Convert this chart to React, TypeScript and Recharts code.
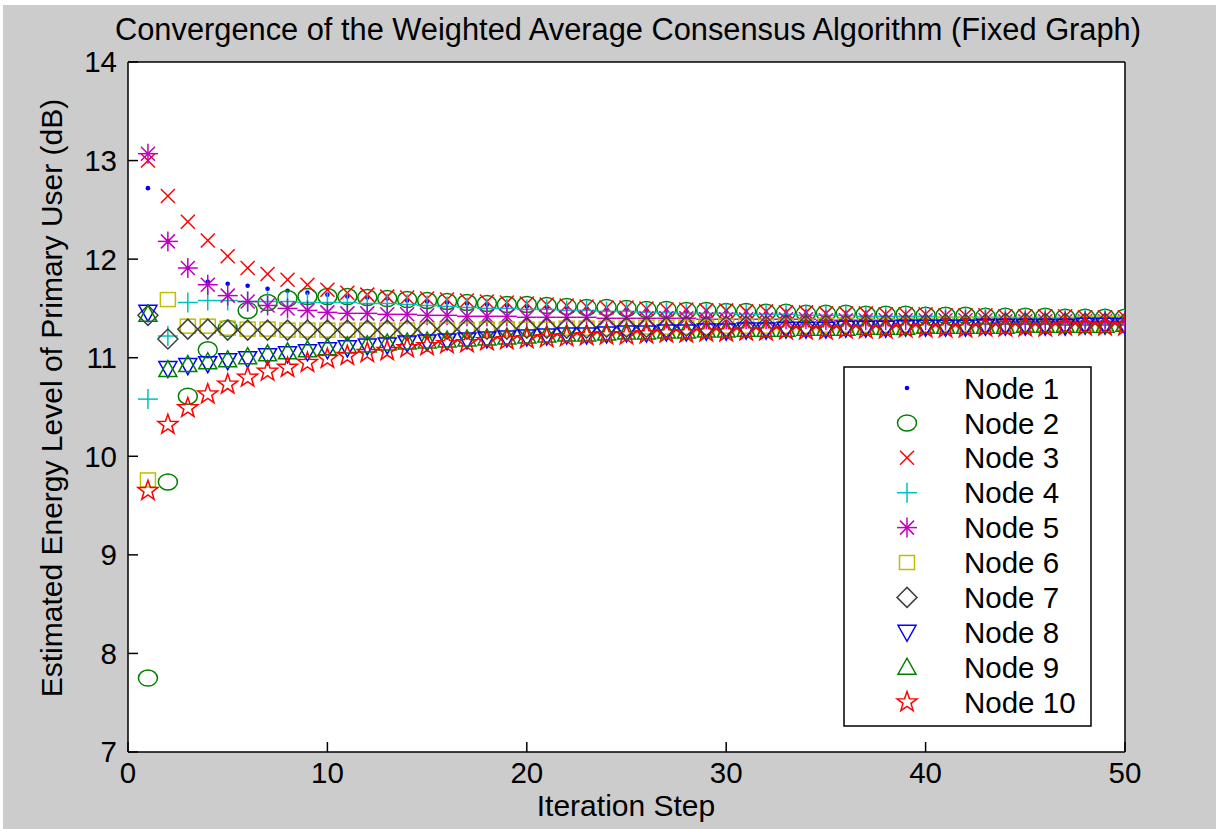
import React from 'react';
import { ScatterChart, Scatter, XAxis, YAxis, CartesianGrid, Legend } from 'recharts';

const iterations = [
  1, 2, 3, 4, 5, 6, 7, 8, 9, 10, 11, 12, 13, 14, 15, 16, 17, 18, 19, 20,
  21, 22, 23, 24, 25, 26, 27, 28, 29, 30, 31, 32, 33, 34, 35, 36, 37, 38, 39, 40,
  41, 42, 43, 44, 45, 46, 47, 48, 49, 50,
];

const node1 = [
  12.72, 12.18, 11.91, 11.77, 11.75, 11.73, 11.70, 11.68, 11.66, 11.64,
  11.62, 11.61, 11.60, 11.58, 11.57, 11.56, 11.55, 11.54, 11.53, 11.52,
  11.51, 11.51, 11.50, 11.49, 11.49, 11.48, 11.47, 11.47, 11.46, 11.46,
  11.45, 11.45, 11.44, 11.44, 11.43, 11.43, 11.43, 11.42, 11.42, 11.42,
  11.41, 11.41, 11.41, 11.40, 11.40, 11.40, 11.40, 11.39, 11.39, 11.39,
];
const node2 = [
  7.75, 9.74, 10.61, 11.08, 11.30, 11.48, 11.56, 11.60, 11.62, 11.62,
  11.62, 11.61, 11.60, 11.59, 11.58, 11.57, 11.56, 11.55, 11.54, 11.54,
  11.53, 11.52, 11.51, 11.51, 11.50, 11.49, 11.49, 11.48, 11.48, 11.47,
  11.47, 11.46, 11.46, 11.45, 11.45, 11.45, 11.44, 11.44, 11.44, 11.43,
  11.43, 11.43, 11.42, 11.42, 11.42, 11.42, 11.41, 11.41, 11.41, 11.41,
];
const node3 = [
  13.00, 12.64, 12.38, 12.19, 12.03, 11.91, 11.85, 11.79, 11.74, 11.69,
  11.66, 11.64, 11.62, 11.61, 11.60, 11.59, 11.58, 11.57, 11.56, 11.55,
  11.54, 11.53, 11.52, 11.51, 11.51, 11.50, 11.49, 11.49, 11.48, 11.48,
  11.47, 11.47, 11.46, 11.46, 11.45, 11.45, 11.45, 11.44, 11.44, 11.44,
  11.43, 11.43, 11.43, 11.42, 11.42, 11.42, 11.42, 11.41, 11.41, 11.41,
];
const node4 = [
  10.58, 11.22, 11.56, 11.58, 11.58, 11.57, 11.57, 11.57, 11.56, 11.56,
  11.56, 11.55, 11.55, 11.54, 11.53, 11.52, 11.51, 11.50, 11.50, 11.49,
  11.49, 11.48, 11.48, 11.47, 11.47, 11.46, 11.46, 11.45, 11.45, 11.45,
  11.44, 11.44, 11.44, 11.43, 11.43, 11.43, 11.42, 11.42, 11.42, 11.42,
  11.41, 11.41, 11.41, 11.41, 11.40, 11.40, 11.40, 11.40, 11.40, 11.39,
];
const node5 = [
  13.07, 12.18, 11.91, 11.74, 11.63, 11.57, 11.53, 11.50, 11.48, 11.46,
  11.45, 11.45, 11.44, 11.44, 11.43, 11.43, 11.42, 11.42, 11.42, 11.41,
  11.41, 11.41, 11.41, 11.40, 11.40, 11.40, 11.40, 11.40, 11.39, 11.39,
  11.39, 11.39, 11.39, 11.39, 11.38, 11.38, 11.38, 11.38, 11.38, 11.38,
  11.38, 11.38, 11.38, 11.37, 11.37, 11.37, 11.37, 11.37, 11.37, 11.37,
];
const node6 = [
  9.76, 11.59, 11.32, 11.32, 11.30, 11.29, 11.29, 11.28, 11.28, 11.28,
  11.28, 11.28, 11.28, 11.28, 11.28, 11.28, 11.28, 11.29, 11.29, 11.29,
  11.29, 11.30, 11.30, 11.30, 11.30, 11.31, 11.31, 11.31, 11.31, 11.32,
  11.32, 11.32, 11.32, 11.32, 11.33, 11.33, 11.33, 11.33, 11.33, 11.33,
  11.34, 11.34, 11.34, 11.34, 11.34, 11.34, 11.34, 11.35, 11.35, 11.35,
];
const node7 = [
  11.43, 11.19, 11.29, 11.29, 11.28, 11.28, 11.28, 11.28, 11.28, 11.28,
  11.28, 11.28, 11.28, 11.28, 11.29, 11.29, 11.29, 11.29, 11.29, 11.30,
  11.30, 11.30, 11.30, 11.31, 11.31, 11.31, 11.31, 11.32, 11.32, 11.32,
  11.32, 11.32, 11.33, 11.33, 11.33, 11.33, 11.33, 11.34, 11.34, 11.34,
  11.34, 11.34, 11.34, 11.35, 11.35, 11.35, 11.35, 11.35, 11.35, 11.35,
];
const node8 = [
  11.46, 10.89, 10.92, 10.94, 10.97, 10.99, 11.02, 11.04, 11.06, 11.08,
  11.10, 11.12, 11.13, 11.15, 11.16, 11.17, 11.18, 11.19, 11.20, 11.21,
  11.22, 11.23, 11.23, 11.24, 11.25, 11.25, 11.26, 11.26, 11.27, 11.27,
  11.28, 11.28, 11.29, 11.29, 11.29, 11.30, 11.30, 11.30, 11.31, 11.31,
  11.31, 11.31, 11.32, 11.32, 11.32, 11.32, 11.32, 11.33, 11.33, 11.33,
];
const node9 = [
  11.44, 10.88, 10.93, 10.96, 10.98, 11.01, 11.04, 11.06, 11.08, 11.10,
  11.12, 11.13, 11.15, 11.16, 11.17, 11.18, 11.19, 11.20, 11.21, 11.22,
  11.23, 11.24, 11.24, 11.25, 11.26, 11.26, 11.27, 11.27, 11.28, 11.28,
  11.29, 11.29, 11.29, 11.30, 11.30, 11.30, 11.31, 11.31, 11.31, 11.32,
  11.32, 11.32, 11.32, 11.32, 11.33, 11.33, 11.33, 11.33, 11.33, 11.34,
];
const node10 = [
  9.65, 10.32, 10.49, 10.63, 10.73, 10.80, 10.86, 10.90, 10.95, 10.99,
  11.02, 11.05, 11.07, 11.10, 11.12, 11.14, 11.15, 11.17, 11.18, 11.19,
  11.20, 11.21, 11.22, 11.23, 11.23, 11.24, 11.25, 11.25, 11.26, 11.26,
  11.27, 11.27, 11.28, 11.28, 11.28, 11.29, 11.29, 11.29, 11.30, 11.30,
  11.30, 11.30, 11.31, 11.31, 11.31, 11.31, 11.32, 11.32, 11.32, 11.32,
];

const nodeNames = ['Node 1', 'Node 2', 'Node 3', 'Node 4', 'Node 5', 'Node 6', 'Node 7', 'Node 8', 'Node 9', 'Node 10'];
const nodeValues = [node1, node2, node3, node4, node5, node6, node7, node8, node9, node10];
const nodeColors = ['#0000ff', '#008000', '#ff0000', '#00bfbf', '#bf00bf', '#bfbf00', '#404040', '#0000ff', '#008000', '#ff0000'];
const nodeMarkers = ['dot', 'circle', 'x', 'plus', 'asterisk', 'square', 'diamond', 'triDown', 'triUp', 'pentagram'];

const xTicks = [0, 10, 20, 30, 40, 50];
const yTicks = [7, 8, 9, 10, 11, 12, 13, 14];

const titleText = 'Convergence of the Weighted Average Consensus Algorithm (Fixed Graph)';
const xLabelText = 'Iteration Step';
const yLabelText = 'Estimated Energy Level of Primary User (dB)';

const FONT = '"Liberation Sans", Arial, Helvetica, sans-serif';
const W = 1216;
const H = 829;

function pentagramPoints(cx: number, cy: number, R: number, r: number) {
  const pts: string[] = [];
  for (let k = 0; k < 10; k++) {
    const a = (-90 + 36 * k) * (Math.PI / 180);
    const rad = k % 2 === 0 ? R : r;
    pts.push(`${cx + rad * Math.cos(a)},${cy + rad * Math.sin(a)}`);
  }
  return pts.join(' ');
}

function Marker({ kind, cx, cy, color }: { kind: string; cx: number; cy: number; color: string }) {
  const sw = 1.5;
  const common = { stroke: color, strokeWidth: sw, fill: 'none' };
  if (cx == null || cy == null || isNaN(cx) || isNaN(cy)) return null;
  switch (kind) {
    case 'dot':
      return <circle cx={cx} cy={cy} r={2.3} fill={color} />;
    case 'circle':
      return <ellipse cx={cx} cy={cy} rx={9.5} ry={8} {...common} />;
    case 'x':
      return (
        <g {...common}>
          <line x1={cx - 7} y1={cy - 7} x2={cx + 7} y2={cy + 7} />
          <line x1={cx - 7} y1={cy + 7} x2={cx + 7} y2={cy - 7} />
        </g>
      );
    case 'plus':
      return (
        <g {...common}>
          <line x1={cx - 10} y1={cy} x2={cx + 10} y2={cy} />
          <line x1={cx} y1={cy - 10} x2={cx} y2={cy + 10} />
        </g>
      );
    case 'asterisk':
      return (
        <g {...common}>
          <line x1={cx - 10} y1={cy} x2={cx + 10} y2={cy} />
          <line x1={cx} y1={cy - 10} x2={cx} y2={cy + 10} />
          <line x1={cx - 7} y1={cy - 7} x2={cx + 7} y2={cy + 7} />
          <line x1={cx - 7} y1={cy + 7} x2={cx + 7} y2={cy - 7} />
        </g>
      );
    case 'square':
      return <rect x={cx - 7.5} y={cy - 7} width={15} height={14} {...common} />;
    case 'diamond':
      return <polygon points={`${cx},${cy - 10} ${cx + 10},${cy} ${cx},${cy + 10} ${cx - 10},${cy}`} {...common} />;
    case 'triDown':
      return <polygon points={`${cx - 9},${cy - 7} ${cx + 9},${cy - 7} ${cx},${cy + 9}`} {...common} />;
    case 'triUp':
      return <polygon points={`${cx - 9},${cy + 7} ${cx + 9},${cy + 7} ${cx},${cy - 9}`} {...common} />;
    case 'pentagram':
      return <polygon points={pentagramPoints(cx, cy, 10.5, 4.2)} {...common} />;
    default:
      return null;
  }
}

const seriesData = nodeValues.map((vals) => iterations.map((x, i) => ({ x, y: vals[i] })));

function LegendBox() {
  const boxW = 249;
  const boxH = 361;
  return (
    <svg width={boxW} height={boxH} style={{ display: 'block' }}>
      <rect x={1} y={1} width={boxW - 2} height={boxH - 2} fill="#ffffff" stroke="#000" strokeWidth={1.5} />
      {nodeNames.map((name, i) => {
        const cy = 22 + 34.9 * i;
        return (
          <g key={name}>
            <Marker kind={nodeMarkers[i]} cx={64} cy={cy} color={nodeColors[i]} />
            <text x={121} y={cy} dy="0.36em" fontSize={29.5} fontFamily={FONT} fill="#000">
              {name}
            </text>
          </g>
        );
      })}
    </svg>
  );
}

export default function App() {
  const tickStyle = { fill: '#000', fontSize: 29.5, fontFamily: FONT };
  return (
    <div style={{ position: 'absolute', left: 0, top: 0, width: W, height: H, background: '#ffffff', overflow: 'hidden' }}>
      <div style={{ position: 'absolute', left: 3, top: 5, width: W - 3, height: H - 5, background: '#cccccc' }} />
      <div style={{ position: 'absolute', left: 0, top: 0 }}>
        <ScatterChart width={W} height={H} margin={{ top: 61, right: 90, bottom: 0, left: 0 }}>
          <CartesianGrid fill="#ffffff" horizontal={false} vertical={false} xAxisId="b" yAxisId="l" />
          <XAxis
            xAxisId="b"
            type="number"
            dataKey="x"
            orientation="bottom"
            domain={[0, 50]}
            ticks={xTicks}
            interval={0}
            height={77}
            tickSize={-10}
            tickMargin={20}
            axisLine={{ stroke: '#000', strokeWidth: 1.5 }}
            tickLine={{ stroke: '#000', strokeWidth: 1.5 }}
            tick={tickStyle}
            allowDataOverflow
          />
          <XAxis
            xAxisId="t"
            type="number"
            orientation="top"
            domain={[0, 50]}
            ticks={xTicks}
            interval={0}
            height={1}
            tickSize={-10}
            axisLine={{ stroke: '#000', strokeWidth: 1.5 }}
            tickLine={{ stroke: '#000', strokeWidth: 1.5 }}
            tick={() => <g />}
          />
          <YAxis
            yAxisId="l"
            type="number"
            dataKey="y"
            orientation="left"
            domain={[7, 14]}
            ticks={yTicks}
            interval={0}
            width={128}
            tickSize={-10}
            tickMargin={21}
            axisLine={{ stroke: '#000', strokeWidth: 1.5 }}
            tickLine={{ stroke: '#000', strokeWidth: 1.5 }}
            tick={tickStyle}
            allowDataOverflow
          />
          <YAxis
            yAxisId="r"
            type="number"
            orientation="right"
            domain={[7, 14]}
            ticks={yTicks}
            interval={0}
            width={1}
            tickSize={-10}
            axisLine={{ stroke: '#000', strokeWidth: 1.5 }}
            tickLine={{ stroke: '#000', strokeWidth: 1.5 }}
            tick={() => <g />}
          />
          <Legend
            layout="vertical"
            align="center"
            verticalAlign="middle"
            wrapperStyle={{ position: 'absolute', left: 843, top: 366, width: 249, height: 361 }}
            content={() => <LegendBox />}
          />
          {nodeNames.map((name, i) => (
            <Scatter
              key={name}
              name={name}
              data={seriesData[i]}
              xAxisId="b"
              yAxisId="l"
              fill={nodeColors[i]}
              isAnimationActive={false}
              shape={(p: any) => <Marker kind={nodeMarkers[i]} cx={p.cx} cy={p.cy} color={nodeColors[i]} />}
            />
          ))}
        </ScatterChart>
      </div>
      <svg width={W} height={H} style={{ position: 'absolute', left: 0, top: 0, pointerEvents: 'none' }}>
        <text x={628} y={40} textAnchor="middle" fontSize={30.8} fontFamily={FONT} fill="#000">
          {titleText}
        </text>
        <text x={626} y={816} textAnchor="middle" fontSize={30} fontFamily={FONT} fill="#000">
          {xLabelText}
        </text>
        <text
          x={0}
          y={0}
          transform={`translate(62, 398) rotate(-90)`}
          textAnchor="middle"
          fontSize={30}
          fontFamily={FONT}
          fill="#000"
        >
          {yLabelText}
        </text>
      </svg>
    </div>
  );
}
